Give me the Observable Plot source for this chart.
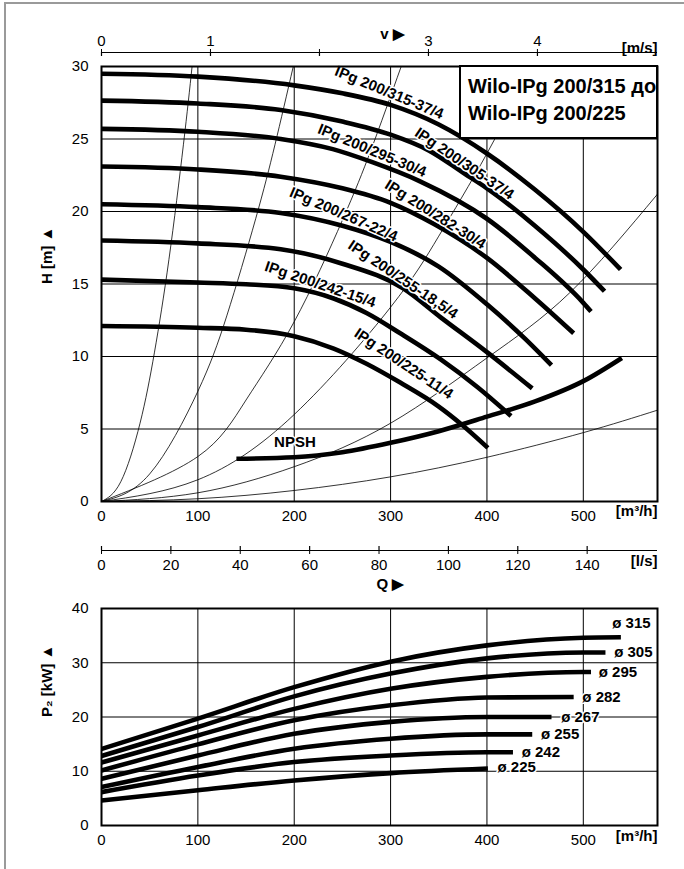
<!DOCTYPE html>
<html>
<head>
<meta charset="utf-8">
<script src="https://cdn.jsdelivr.net/npm/d3@7"></script>
<script src="https://cdn.jsdelivr.net/npm/@observablehq/plot@0.6"></script>
<style>
  body { margin: 0; background: #fff; }
  #wrap { position: relative; width: 684px; height: 869px; overflow: hidden; background: #fff;
          font-family: "Liberation Sans", Arial, Helvetica, sans-serif; }
  #wrap svg { position: absolute; left: 0; overflow: visible; }
  .pageframe { position: absolute; left: 4px; top: 2px; width: 700px; height: 900px;
               border-left: 2px solid #9a9a9a; border-top: 2px solid #9a9a9a; }
  .titlebox { position: absolute; left: 459px; top: 65px; width: 199px; height: 74px; box-sizing: border-box;
              background: #fff; border: 2px solid #000; padding: 6px 0 0 7px;
              font-weight: bold; font-size: 20px; line-height: 27px; color: #000; white-space: nowrap; }
</style>
</head>
<body>
<div id="wrap"><div class="pageframe"></div></div>
<script>
// ---------- data ----------
const flowTicks = [0, 100, 200, 300, 400, 500];          // m3/h
const headTicks = [0, 5, 10, 15, 20, 25, 30];            // m
const powerTicks = [0, 10, 20, 30, 40];                  // kW
const velocityTicks = [0, 1, 2, 3, 4];                   // m/s
const litreTicks = [0, 20, 40, 60, 80, 100, 120, 140];   // l/s
const flowMax = 577;                                      // right edge of the grid, m3/h
const velocityFactor = 113.1;                             // m3/h per m/s (DN 200)
const litreFactor = 3.6;                                  // m3/h per l/s

const titleLines = ["Wilo-IPg 200/315 до", "Wilo-IPg 200/225"];

const pumpNames = ["IPg 200/315-37/4", "IPg 200/305-37/4", "IPg 200/295-30/4", "IPg 200/282-30/4",
                   "IPg 200/267-22/4", "IPg 200/255-18,5/4", "IPg 200/242-15/4", "IPg 200/225-11/4"];
const diameters = [315, 305, 295, 282, 267, 255, 242, 225];

// H(Q) curves  [Q m3/h, H m]
const headCurves = [
  [[0,29.5],[100,29.3],[200,28.7],[250,28.15],[300,27.35],[350,26.0],[400,24.0],[450,21.5],[500,18.6],[538.7,16.0]],
  [[0,27.65],[100,27.45],[186,27.0],[250,26.2],[300,25.3],[340,24.2],[377,22.6],[400,21.6],[450,19.0],[500,16.0],[522,14.5]],
  [[0,25.7],[100,25.5],[186,25.0],[240,24.3],[281,23.4],[330,22.1],[400,19.5],[450,16.8],[500,13.7],[508,13.1]],
  [[0,23.1],[100,22.9],[186,22.4],[250,21.6],[300,20.6],[346,19.1],[400,16.8],[450,14.0],[490,11.6]],
  [[0,20.5],[100,20.3],[186,19.9],[251,19.0],[300,17.9],[350,16.2],[400,13.6],[440,11.2],[467,9.4]],
  [[0,18.0],[100,17.8],[186,17.4],[250,16.4],[313,14.7],[352,12.7],[400,10.3],[447,7.8]],
  [[0,15.3],[100,15.1],[150,14.98],[200,14.7],[241,14.0],[275,13.0],[310,11.6],[352,9.8],[390,7.9],[425,5.9]],
  [[0,12.1],[100,11.98],[150,11.85],[200,11.4],[241,10.55],[275,9.5],[310,8.2],[350,6.55],[374,5.3],[401,3.7]]
];
const headLabelQ = [298.6, 376.6, 280.8, 346.5, 251.3, 313.0, 227.0, 313.6];
const headLabelH = [28.2, 23.3, 24.2, 19.8, 19.8, 15.3, 14.97, 9.5];
const headLabelAngle = [22.5, 34, 22.6, 32.3, 23.3, 33.9, 18.7, 33.7];

// NPSH curve [Q, m]
const npshCurve = [[140,2.95],[200,3.05],[250,3.4],[300,4.05],[350,4.85],[400,5.85],[450,6.9],[500,8.3],[540,9.9]];
const npshLabel = {q: 200.7, h: 4.1, text: "NPSH"};

// thin system parabolas [Q, H]
const systemCurves = [
  [[0,0],[20,1.36],[40,5.4],[55,10.3],[70,16.7],[85,24.6],[94,30]],
  [[0,0],[50,1.9],[100,7.6],[130,12.8],[160,19.5],[180,24.6],[199,30]],
  [[0,0],[100,3.1],[150,7.0],[200,12.4],[250,19.4],[280,24.3],[311,30]],
  [[0,0],[100,1.5],[200,6.0],[300,13.4],[350,18.3],[400,24.0],[447,30]],
  [[0,0],[100,0.6],[200,2.4],[300,5.4],[400,9.9],[486,14.4],[577,21.2]],
  [[0,0],[100,0.19],[200,0.76],[300,1.7],[400,3.05],[500,4.75],[577,6.3]]
];

// P2(Q) curves [Q m3/h, P kW]
const powerCurves = [
  [[0,14.1],[100,19.7],[200,25.5],[300,30.2],[400,33.2],[500,34.6],[539,34.7]],
  [[0,12.8],[100,18.15],[200,23.8],[300,28.0],[400,30.8],[500,31.9],[523,31.9]],
  [[0,11.6],[100,16.6],[200,21.5],[300,25.2],[400,27.4],[500,28.3],[508,28.3]],
  [[0,10.15],[100,14.95],[200,19.4],[300,22.15],[400,23.6],[490,23.7]],
  [[0,8.6],[100,12.9],[200,16.9],[300,19.1],[400,20.0],[467,20.0]],
  [[0,7.1],[100,10.8],[200,14.15],[300,16.0],[400,16.8],[447,16.8]],
  [[0,6.15],[100,9.2],[200,11.7],[300,12.9],[400,13.5],[427,13.5]],
  [[0,4.6],[100,6.5],[200,8.3],[300,9.65],[401,10.5]]
];
const powerLabelQ = [530, 532, 516, 499, 477, 456, 436, 411];
const powerLabelP = [37.3, 31.9, 28.3, 23.7, 20.0, 16.8, 13.6, 10.7];

// ---------- tables for Plot ----------
const headRows = headCurves.flatMap((pts, i) => pts.map(([q, h]) => ({id: pumpNames[i], q, h})));
const headLabelRows = pumpNames.map((name, i) => ({text: name, q: headLabelQ[i], h: headLabelH[i], a: headLabelAngle[i]}));
const npshRows = npshCurve.map(([q, h]) => ({q, h}));
const systemRows = systemCurves.flatMap((pts, i) => pts.map(([q, h]) => ({id: "s" + i, q, h})));
const powerRows = powerCurves.flatMap((pts, i) => pts.map(([q, p]) => ({id: diameters[i], q, p})));
const powerLabelRows = diameters.map((d, i) => ({text: "ø " + d, q: powerLabelQ[i], p: powerLabelP[i]}));

const FONT = '"Liberation Sans", Arial, Helvetica, sans-serif';
const baseStyle = {background: "transparent", fontFamily: FONT, fontSize: "15px", color: "#000", overflow: "visible"};
const gridStyle = {stroke: "#000", strokeOpacity: 1, strokeWidth: 1};
const common = {width: 684, marginLeft: 101, marginRight: 27};

// ---------- velocity axis (top) ----------
const vPlot = Plot.plot({
  ...common, height: 66, marginTop: 52, marginBottom: 10,
  style: baseStyle,
  x: {domain: [0, flowMax / velocityFactor]},
  y: {domain: [0, 1], axis: null},
  marks: [
    Plot.ruleY([1], {stroke: "#000", strokeWidth: 1.2}),
    Plot.tickX(velocityTicks, {stroke: "#000", strokeWidth: 1.2}),
    Plot.axisX(velocityTicks, {anchor: "top", tickSize: 4, tickPadding: 3, label: null,
      tickFormat: d => d === 2 ? "" : String(d)}),
    Plot.text(["v ▶"], {frameAnchor: "top", dx: 13, dy: -24, fontWeight: "bold", fontSize: 15}),
    Plot.text(["[m/s]"], {frameAnchor: "top-right", dy: -10, textAnchor: "end", fontWeight: "bold", fontSize: 15})
  ]
});

// ---------- H(Q) chart ----------
const hPlot = Plot.plot({
  ...common, height: 600, marginTop: 66, marginBottom: 99,
  style: baseStyle,
  x: {domain: [0, flowMax]},
  y: {domain: [0, 30]},
  marks: [
    Plot.gridX(flowTicks.slice(1), gridStyle),
    Plot.gridY(headTicks.slice(1, -1), gridStyle),
    Plot.line(systemRows, {x: "q", y: "h", z: "id", stroke: "#000", strokeWidth: 0.8, curve: "natural", clip: true}),
    Plot.line(npshRows, {x: "q", y: "h", stroke: "#000", strokeWidth: 4.6, curve: "monotone-x", strokeLinecap: "butt"}),
    Plot.line(headRows, {x: "q", y: "h", z: "id", stroke: "#000", strokeWidth: 4.6, curve: "monotone-x", strokeLinecap: "butt"}),
    Plot.text(headLabelRows, {x: "q", y: "h", text: "text", rotate: "a", fontWeight: "bold", fontSize: 15,
      fill: "#000", stroke: "#fff", strokeWidth: 3}),
    Plot.text([npshLabel], {x: "q", y: "h", text: "text", fontWeight: "bold", fontSize: 15,
      fill: "#000", stroke: "#fff", strokeWidth: 3}),
    Plot.frame({stroke: "#000", strokeWidth: 2}),
    Plot.axisX(flowTicks, {anchor: "bottom", tickSize: 0, tickPadding: 9, label: null}),
    Plot.axisY(headTicks, {anchor: "left", tickSize: 0, tickPadding: 13, label: null}),
    Plot.text(["H [m] ▲"], {frameAnchor: "left", dx: -54, rotate: -90, fontWeight: "bold", fontSize: 15}),
    Plot.text(["[m³/h]"], {frameAnchor: "bottom-right", dy: 14, textAnchor: "end", fontWeight: "bold", fontSize: 15})
  ]
});

// ---------- litre axis ----------
const lPlot = Plot.plot({
  ...common, height: 64, marginTop: 11, marginBottom: 49,
  style: baseStyle,
  x: {domain: [0, flowMax / litreFactor]},
  y: {domain: [0, 1], axis: null},
  marks: [
    Plot.ruleY([0], {stroke: "#000", strokeWidth: 1.2}),
    Plot.tickX(litreTicks, {stroke: "#000", strokeWidth: 1.2}),
    Plot.axisX(litreTicks, {anchor: "bottom", tickSize: 4, tickPadding: 5, label: null}),
    Plot.text(["[l/s]"], {frameAnchor: "bottom-right", dy: 15, textAnchor: "end", fontWeight: "bold", fontSize: 15}),
    Plot.text(["Q ▶"], {frameAnchor: "bottom", dx: 11, dy: 38, fontWeight: "bold", fontSize: 15})
  ]
});

// ---------- P2(Q) chart ----------
const pPlot = Plot.plot({
  ...common, height: 269, marginTop: 8, marginBottom: 44,
  style: baseStyle,
  x: {domain: [0, flowMax]},
  y: {domain: [0, 40]},
  marks: [
    Plot.gridX(flowTicks.slice(1), gridStyle),
    Plot.gridY(powerTicks.slice(1, -1), gridStyle),
    Plot.line(powerRows, {x: "q", y: "p", z: "id", stroke: "#000", strokeWidth: 4.6, curve: "monotone-x", strokeLinecap: "butt"}),
    Plot.text(powerLabelRows, {x: "q", y: "p", text: "text", textAnchor: "start", fontWeight: "bold", fontSize: 15,
      fill: "#000", stroke: "#fff", strokeWidth: 3}),
    Plot.frame({stroke: "#000", strokeWidth: 2}),
    Plot.axisX(flowTicks, {anchor: "bottom", tickSize: 0, tickPadding: 9, label: null}),
    Plot.axisY(powerTicks, {anchor: "left", tickSize: 0, tickPadding: 13, label: null}),
    Plot.text(["P₂ [kW] ▲"], {frameAnchor: "left", dx: -54, rotate: -90, fontWeight: "bold", fontSize: 15}),
    Plot.text(["[m³/h]"], {frameAnchor: "bottom-right", dy: 15, textAnchor: "end", fontWeight: "bold", fontSize: 15})
  ]
});

const wrap = document.getElementById("wrap");
function place(node, top) { node.style.top = top + "px"; node.style.position = "absolute"; wrap.appendChild(node); }
place(hPlot, 0);
place(vPlot, 0);
place(lPlot, 535);
place(pPlot, 600);

const box = document.createElement("div");
box.className = "titlebox";
box.innerHTML = titleLines.map(t => `<div>${t}</div>`).join("");
wrap.appendChild(box);
</script>
</body>
</html>
